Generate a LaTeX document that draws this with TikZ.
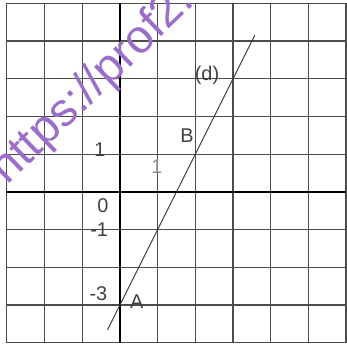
\documentclass[tikz,border=0pt]{standalone}
\usepackage{fontspec}
\setsansfont{Liberation Sans}
\usetikzlibrary{positioning}
\colorlet{gridline}{black!70}
\colorlet{labeltext}{black!75}
\definecolor{watermark}{HTML}{9B6FC9}

\begin{document}
\begin{tikzpicture}[
    axislabel/.style={text=labeltext, font=\fontsize{15}{17}\selectfont\sffamily, inner sep=0pt},
    urlmark/.style={text=watermark, font=\fontsize{35.5}{38}\selectfont\sffamily, inner sep=0pt}
  ]
    \useasboundingbox (-3.18,-4.14) rectangle (6.02,5.09);
    \clip (-3.18,-4.14) rectangle (6.02,5.09);

    % Grid and axes
    \draw[gridline, line width=1pt] (-3,-4) grid (6,5);
    \draw[black, line width=1.6pt] (-3,0) -- (6,0);
    \draw[black, line width=1.6pt] (0,-4) -- (0,5);

    % Line (d) through A and B
    \coordinate (A) at (0,-3);
    \coordinate (B) at (2,1);
    \coordinate (dlow) at (-0.33,-3.66);
    \coordinate (dhigh) at (3.58,4.16);
    \draw[black!80, line width=0.7pt] (dlow) -- (dhigh);

    % Labels
    \node[axislabel] (yone) at (-0.53,1.11) {1};
    \node[axislabel] (orig) at (-0.45,-0.37) {0};
    \node[axislabel] (yminone) at (-0.55,-1.0) {-1};
    \node[axislabel] (ymin3) at (-0.57,-2.69) {-3};
    \node[axislabel, text=black!45] (xone) at (0.98,0.66) {1};
    \node[axislabel] (lblA) at (0.45,-2.92) {A};
    \node[axislabel] (lblB) at (1.78,1.49) {B};
    \node[axislabel] (lbld) at (2.31,3.08) {(d)};

    % Watermark
    \node[urlmark, rotate=44, anchor=base west] (url) at (-2.98,0.17) {https://prof2.};
  \end{tikzpicture}
\end{document}
